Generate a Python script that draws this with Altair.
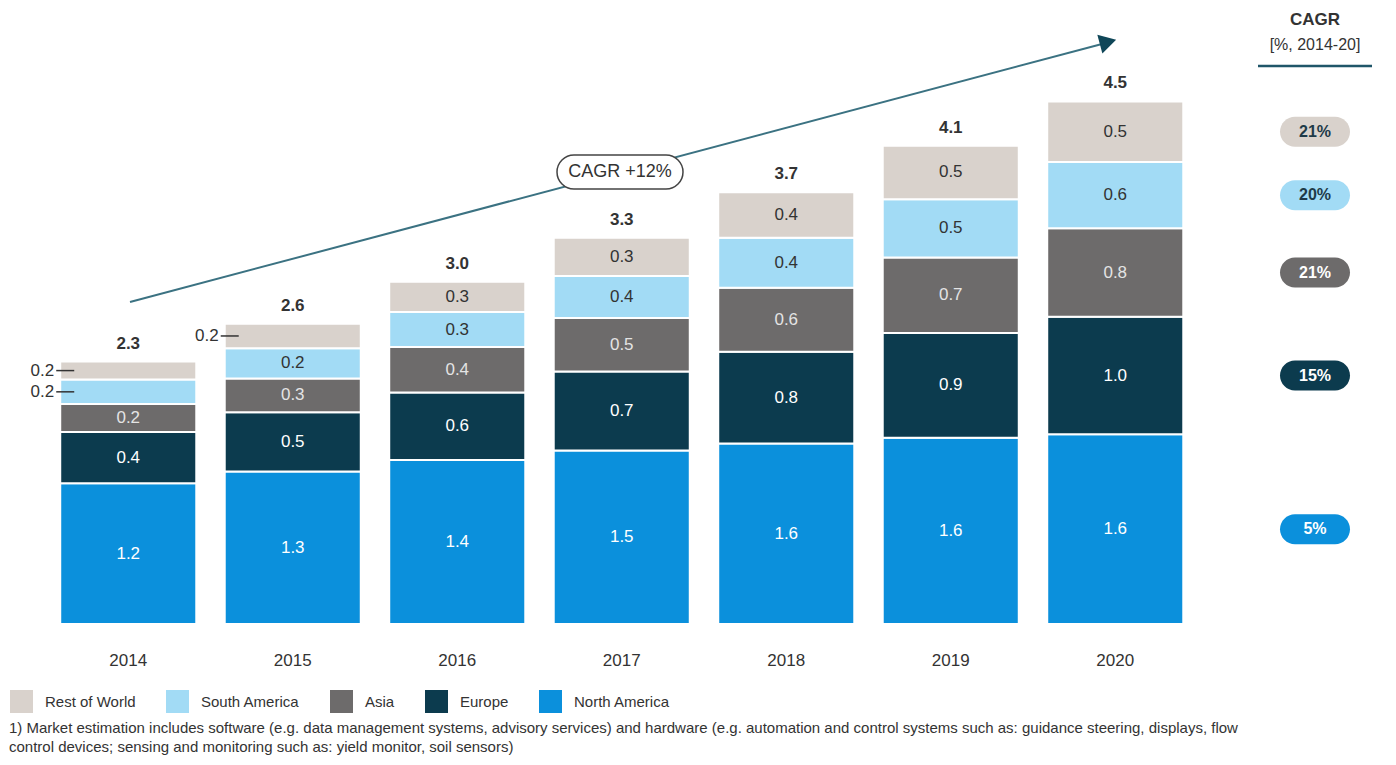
import altair as alt
import pandas as pd

# ---------------- data ----------------
years = ["2014", "2015", "2016", "2017", "2018", "2019", "2020"]
segments = ["North America", "Europe", "Asia", "South America", "Rest of World"]
north_america = [1.21, 1.31, 1.41, 1.49, 1.55, 1.60, 1.63]
europe = [0.44, 0.51, 0.58, 0.68, 0.79, 0.90, 1.01]
asia = [0.24, 0.29, 0.39, 0.46, 0.55, 0.65, 0.76]
south_america = [0.21, 0.26, 0.30, 0.36, 0.43, 0.50, 0.57]
rest_of_world = [0.155, 0.21, 0.26, 0.33, 0.39, 0.46, 0.52]
na_labels = ["1.2", "1.3", "1.4", "1.5", "1.6", "1.6", "1.6"]
eu_labels = ["0.4", "0.5", "0.6", "0.7", "0.8", "0.9", "1.0"]
asia_labels = ["0.2", "0.3", "0.4", "0.5", "0.6", "0.7", "0.8"]
sa_labels = ["0.2", "0.2", "0.3", "0.4", "0.4", "0.5", "0.6"]
row_labels = ["0.2", "0.2", "0.3", "0.3", "0.4", "0.5", "0.5"]
total_labels = ["2.3", "2.6", "3.0", "3.3", "3.7", "4.1", "4.5"]
cagr_labels = {"Rest of World": "21%", "South America": "20%", "Asia": "21%",
               "Europe": "15%", "North America": "5%"}
overall_cagr = "CAGR +12%"
footnote_1 = "1) Market estimation  includes software (e.g. data management systems, advisory services)  and hardware (e.g. automation and control systems  such as: guidance steering, displays, flow"
footnote_2 = "control devices;  sensing and monitoring such as: yield  monitor, soil sensors)"

legend_order = ["Rest of World", "South America", "Asia", "Europe", "North America"]
palette = ["#d9d2cc", "#a2dbf5", "#6d6b6b", "#0c3b4e", "#0b90dc"]

F = "Liberation Sans Narrow, Arial Narrow, Liberation Sans, Arial, sans-serif"

values = {"North America": north_america, "Europe": europe, "Asia": asia,
          "South America": south_america, "Rest of World": rest_of_world}
labels = {"North America": na_labels, "Europe": eu_labels, "Asia": asia_labels,
          "South America": sa_labels, "Rest of World": row_labels}

rows = []
tot_rows = []
for i, yr in enumerate(years):
    base = 0.0
    for s in segments:
        v = values[s][i]
        rows.append({"year": yr, "segment": s, "y0": base, "y1": base + v,
                     "mid": base + v / 2, "label": labels[s][i],
                     "small": v < 0.225})
        base += v
    tot_rows.append({"year": yr, "total": base, "label": total_labels[i]})
df = pd.DataFrame(rows)
dft = pd.DataFrame(tot_rows)
dfc = df[df["year"] == years[-1]].copy()
dfc["cagr"] = dfc["segment"].map(cagr_labels)

one = pd.DataFrame({"a": [0]})

xband = alt.X("year:O", sort=years,
              scale=alt.Scale(paddingInner=0.173, paddingOuter=0.0865),
              axis=alt.Axis(title=None, labelAngle=0, labelFontSize=17, labelFont=F,
                            labelColor="#333333", ticks=False, domain=False,
                            labelPadding=28))
yscale = alt.Scale(domain=[0, 5.19])


def Y(field):
    return alt.Y(field, scale=yscale, axis=None)


bars = alt.Chart(df).mark_bar(stroke="white", strokeWidth=2).encode(
    x=xband,
    y=Y("y0:Q"),
    y2="y1:Q",
    color=alt.Color("segment:N",
                    scale=alt.Scale(domain=legend_order, range=palette),
                    legend=alt.Legend(title=None, orient="none", legendX=-36, legendY=670,
                                      direction="horizontal", symbolType="square",
                                      symbolSize=529, symbolStrokeWidth=0, symbolOpacity=1,
                                      labelFont=F, labelFontSize=15, labelColor="#333333",
                                      labelOffset=12, columnPadding=30)),
)


def seg_text(segs, color):
    return alt.Chart(df).transform_filter(
        alt.FieldOneOfPredicate(field="segment", oneOf=segs)
    ).transform_filter("!datum.small").mark_text(
        font=F, fontSize=17, color=color, baseline="middle"
    ).encode(x=alt.X("year:O", sort=years), y=Y("mid:Q"), text="label:N")


t_white = seg_text(["North America", "Europe"], "white")
t_asia = seg_text(["Asia"], "#e4e4e4")
t_dark = seg_text(["South America", "Rest of World"], "#333333")

small = alt.Chart(df).transform_filter("datum.small")
t_out = small.mark_text(font=F, fontSize=17, color="#333333", align="right",
                        baseline="middle", dx=-6).encode(
    x=alt.X("year:O", sort=years, bandPosition=0),
    y=Y("mid:Q"), text="label:N")
leaders = small.mark_rule(color="#333333", strokeWidth=1.5, xOffset=-4, x2Offset=14).encode(
    x=alt.X("year:O", sort=years, bandPosition=0),
    x2=alt.X2("year", bandPosition=0),
    y=Y("mid:Q"))

totals = alt.Chart(dft).mark_text(font=F, fontSize=17, fontWeight="bold", color="#333333",
                                  baseline="middle", dy=-18).encode(
    x=alt.X("year:O", sort=years), y=Y("total:Q"), text="label:N")

# growth arrow
arrow_line = alt.Chart(one).mark_rule(color="#3b7282", strokeWidth=2).encode(
    x=alt.value(84), y=alt.value(282), x2=alt.value(1056), y2=alt.value(24))
arrow_head = alt.Chart(one).mark_point(shape="triangle-right", filled=True, size=380,
                                       angle=345, color="#0f4658", opacity=1).encode(
    x=alt.value(1062), y=alt.value(22))
pill_box = alt.Chart(one).mark_rect(cornerRadius=17, fill="white", stroke="#444444",
                                    strokeWidth=1.5).encode(
    x=alt.value(511), x2=alt.value(637), y=alt.value(135), y2=alt.value(169))
pill_txt = alt.Chart(pd.DataFrame({"t": [overall_cagr]})).mark_text(
    font=F, fontSize=18, color="#333333", baseline="middle").encode(
    x=alt.value(574), y=alt.value(152), text="t:N")

# CAGR column
head1 = alt.Chart(pd.DataFrame({"t": ["CAGR"]})).mark_text(
    font=F, fontSize=17, fontWeight="bold", color="#333333", baseline="middle").encode(
    x=alt.value(1269), y=alt.value(0), text="t:N")
head2 = alt.Chart(pd.DataFrame({"t": ["[%, 2014-20]"]})).mark_text(
    font=F, fontSize=16, color="#333333", baseline="middle").encode(
    x=alt.value(1269), y=alt.value(25), text="t:N")
head_rule = alt.Chart(one).mark_rule(color="#1f5669", strokeWidth=2.5).encode(
    x=alt.value(1212), x2=alt.value(1326), y=alt.value(46))

cagr_pills = alt.Chart(dfc).mark_rect(cornerRadius=15, yOffset=-15, y2Offset=15).encode(
    x=alt.value(1234), x2=alt.value(1304),
    y=Y("mid:Q"), y2="mid:Q",
    color=alt.Color("segment:N", scale=alt.Scale(domain=legend_order, range=palette), legend=None))


def cagr_text(segs, color):
    return alt.Chart(dfc).transform_filter(
        alt.FieldOneOfPredicate(field="segment", oneOf=segs)
    ).mark_text(font=F, fontSize=16, fontWeight="bold", color=color, baseline="middle").encode(
        x=alt.value(1269), y=Y("mid:Q"), text="cagr:N")


ct_dark = cagr_text(["Rest of World", "South America"], "#1e3a48")
ct_white = cagr_text(["Asia", "Europe", "North America"], "white")

foot1 = alt.Chart(pd.DataFrame({"t": [footnote_1]})).mark_text(
    font=F, fontSize=15, color="#333333", align="left", baseline="middle").encode(
    x=alt.value(-37), y=alt.value(708), text="t:N")
foot2 = alt.Chart(pd.DataFrame({"t": [footnote_2]})).mark_text(
    font=F, fontSize=15, color="#333333", align="left", baseline="middle").encode(
    x=alt.value(-37), y=alt.value(727), text="t:N")

chart = alt.layer(
    bars, t_white, t_asia, t_dark, t_out, leaders, totals,
    arrow_line, arrow_head, pill_box, pill_txt,
    head1, head2, head_rule, cagr_pills, ct_dark, ct_white, foot1, foot2
).properties(
    width=1151.5, height=604,
    padding={"left": 38, "top": 12, "right": 190, "bottom": 131},
    autosize=alt.AutoSizeParams(type="none"),
).configure_view(strokeWidth=0)

chart.save("out.html", embed_options={"renderer": "svg", "actions": False})
